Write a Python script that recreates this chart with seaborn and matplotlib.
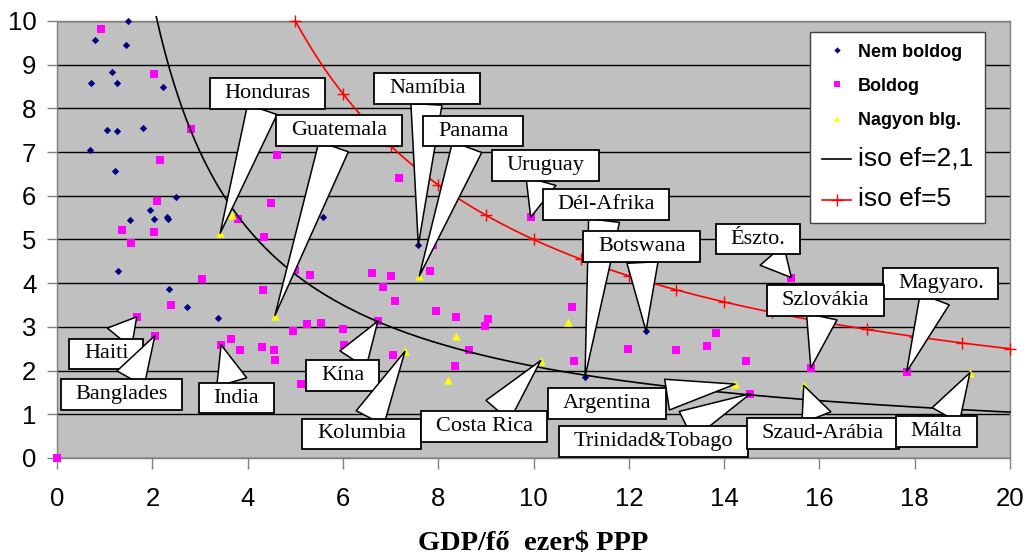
import matplotlib
matplotlib.use("Agg")
import matplotlib.pyplot as plt
from matplotlib.lines import Line2D
import numpy as np
import pandas as pd
import seaborn as sns

# GDP per head (thousand $ PPP) and the y value of each country, by happiness group
nem_boldog_x = [1.48, 0.80, 1.45, 1.14, 0.71, 1.25, 2.23, 1.04, 1.25, 1.80, 0.68, 1.22, 2.49,
                1.95, 1.52, 2.04, 2.30, 2.33, 5.58, 1.28, 2.35, 2.73, 3.37, 7.58, 11.08, 12.36]
nem_boldog_y = [10.0, 9.57, 9.44, 8.83, 8.57, 8.59, 8.49, 7.51, 7.49, 7.56, 7.05, 6.57, 5.98,
                5.67, 5.45, 5.48, 5.51, 5.47, 5.51, 4.29, 3.87, 3.45, 3.20, 4.87, 1.86, 2.91]

boldog_x = [0.92, 2.03, 2.80, 2.16, 4.61, 2.09, 4.49, 3.80, 1.35, 2.03, 4.34, 1.55, 3.04, 5.00,
            5.30, 4.32, 2.38, 1.67, 2.05, 3.64, 3.44, 3.84, 4.29, 4.55, 4.58, 4.95, 5.25, 5.53,
            5.99, 6.03, 5.12, 0.00, 7.89, 7.82, 6.60, 7.00, 6.83, 7.10, 7.96, 8.38, 9.04, 8.98,
            6.73, 7.04, 8.65, 8.36, 10.80, 10.84, 11.99, 13.00, 7.17, 9.94, 15.41, 13.83, 13.63,
            14.45, 15.82, 17.83, 14.55]
boldog_y = [9.81, 8.79, 7.52, 6.82, 6.94, 5.88, 5.84, 5.46, 5.21, 5.18, 5.06, 4.91, 4.10, 4.30,
            4.19, 3.84, 3.49, 3.23, 2.80, 2.72, 2.59, 2.48, 2.55, 2.48, 2.24, 2.91, 3.07, 3.08,
            2.95, 2.59, 1.69, 0.00, 4.87, 4.29, 4.23, 4.17, 3.92, 3.60, 3.36, 3.23, 3.17, 3.01,
            3.13, 2.35, 2.46, 2.11, 3.45, 2.21, 2.49, 2.46, 6.41, 5.51, 4.13, 2.85, 2.57,
            2.21, 2.06, 1.97, 1.47]

nagyon_x = [3.42, 3.67, 4.57, 7.60, 10.72, 8.38, 7.30, 10.15, 8.20, 14.23, 15.67, 19.16]
nagyon_y = [5.14, 5.56, 3.26, 4.16, 3.12, 2.79, 2.44, 2.23, 1.79, 1.69, 1.66, 1.95]

# iso-efficiency curves: y = 10 * ef / GDP
iso_levels = [2.1, 5.0]
iso_start = [2.08, 5.0]
iso_end = 20.0

x_ticks = list(range(0, 21, 2))
y_ticks = list(range(0, 11))

# callouts: (text, group, point index, box centre x, box centre y)
callouts = [
    ("Namíbia", "nem", 23, 7.77, 8.46),
    ("Honduras", "nagyon", 0, 4.42, 8.34),
    ("Guatemala", "nagyon", 2, 5.92, 7.49),
    ("Panama", "nagyon", 3, 8.73, 7.48),
    ("Uruguay", "boldog", 51, 10.25, 6.70),
    ("Dél-Afrika", "nem", 24, 11.52, 5.80),
    ("Botswana", "nem", 25, 12.27, 4.84),
    ("Észto.", "boldog", 52, 14.71, 5.01),
    ("Magyaro.", "boldog", 57, 18.55, 4.00),
    ("Szlovákia", "boldog", 56, 16.12, 3.60),
    ("Haiti", "boldog", 17, 1.03, 2.38),
    ("Banglades", "boldog", 18, 1.35, 1.45),
    ("India", "boldog", 20, 3.76, 1.37),
    ("Kína", "boldog", 42, 5.99, 1.89),
    ("Kolumbia", "nagyon", 6, 6.39, 0.55),
    ("Costa Rica", "nagyon", 7, 8.96, 0.72),
    ("Argentina", "nagyon", 9, 11.55, 1.24),
    ("Trinidad&Tobago", "boldog", 58, 12.52, 0.38),
    ("Szaud-Arábia", "nagyon", 10, 16.07, 0.56),
    ("Málta", "nagyon", 11, 18.46, 0.61),
]

groups = {
    "nem": (nem_boldog_x, nem_boldog_y),
    "boldog": (boldog_x, boldog_y),
    "nagyon": (nagyon_x, nagyon_y),
}

NAVY = "#000080"
MAGENTA = "#FF00FF"
YELLOW = "#FFFF00"
PLOT_BG = "#C0C0C0"
FRAME = "#808080"
SANS = "Liberation Sans"
SERIF = "Liberation Serif"

fig = plt.figure(figsize=(10.27, 5.54), dpi=100)
fig.patch.set_facecolor("white")
ax = fig.add_axes([0.0557, 0.1733, 0.9277, 0.7888])
ax.set_facecolor(PLOT_BG)

# scatter groups
sns.scatterplot(x=nem_boldog_x, y=nem_boldog_y, marker="D", color=NAVY, s=14,
                linewidth=0, ax=ax, zorder=3)
sns.scatterplot(x=boldog_x, y=boldog_y, marker="s", color=MAGENTA, s=26,
                linewidth=0, ax=ax, zorder=3)
sns.scatterplot(x=nagyon_x, y=nagyon_y, marker="^", color=YELLOW, s=36,
                linewidth=0, ax=ax, zorder=3)
for coll in ax.collections:
    coll.set_clip_on(False)

# iso curves
curve_colors = ["black", "red"]
for ef, x0, col in zip(iso_levels, iso_start, curve_colors):
    xs = np.linspace(x0, iso_end, 400)
    df = pd.DataFrame({"x": xs, "y": 10 * ef / xs})
    sns.lineplot(data=df, x="x", y="y", color=col, lw=1.2, ax=ax, zorder=4,
                 clip_on=False, estimator=None, sort=False)

# "+" markers along the ef=5 curve at whole GDP values
mk_x = np.arange(5, 21)
ax.plot(mk_x, 10 * iso_levels[1] / mk_x, ls="none", marker="+", color="red",
        markersize=9, mew=1.0, zorder=4, clip_on=False)

ax.set_xlim(0, 20)
ax.set_ylim(0, 10)
ax.set_xticks(x_ticks)
ax.set_yticks(y_ticks)
ax.set_xticklabels([str(v) for v in x_ticks], fontfamily=SANS, fontsize=18.5)
ax.set_yticklabels([str(v) for v in y_ticks], fontfamily=SANS, fontsize=18.5)
ax.tick_params(axis="x", length=8, width=1, color=FRAME, pad=13, direction="out")
ax.tick_params(axis="y", length=7, width=1, color=FRAME, pad=8, direction="out")
ax.yaxis.grid(True, color="black", lw=1)
ax.xaxis.grid(False)
ax.set_axisbelow(True)
for sp in ax.spines.values():
    sp.set_color(FRAME)
    sp.set_linewidth(1)

ax.set_xlabel("GDP/fő  ezer$ PPP", fontfamily=SERIF, fontweight="bold", fontsize=20.5)
ax.xaxis.set_label_coords(0.5, -0.195)
ax.xaxis.label.set_va("center")
ax.set_ylabel("")

# callout boxes with wedge pointers
for i, (txt, grp, idx, bx, by) in enumerate(callouts):
    gx, gy = groups[grp]
    ax.annotate(
        txt, xy=(gx[idx], gy[idx]), xytext=(bx, by),
        textcoords="data", ha="center", va="center",
        fontfamily=SERIF, fontsize=16, color="black",
        bbox=dict(boxstyle="square,pad=0.66", fc="white", ec="black", lw=1.3,
                  mutation_aspect=0.4),
        arrowprops=dict(arrowstyle="wedge,tail_width=1.4,shrink_factor=0.5",
                        fc="white", ec="black", lw=1.1, shrinkA=0, shrinkB=0),
        zorder=6 + i, annotation_clip=False,
    )

# legend
handles = [
    Line2D([], [], marker="D", color=NAVY, ls="none", markersize=3.2, mew=0),
    Line2D([], [], marker="s", color=MAGENTA, ls="none", markersize=4, mew=0),
    Line2D([], [], marker="^", color=YELLOW, ls="none", markersize=4.5, mew=0),
    Line2D([], [], color="black", lw=1.2),
    Line2D([], [], color="red", lw=1.2, marker="+", markersize=9, mew=1.0),
]
labels = ["Nem boldog", "Boldog", "Nagyon blg.", "iso ef=2,1", "iso ef=5"]
leg = ax.legend(handles, labels, loc="upper right", bbox_to_anchor=(0.974, 0.975),
                borderaxespad=0, frameon=True, fancybox=False, framealpha=1,
                facecolor="white", edgecolor="#404040", borderpad=0.65,
                labelspacing=0.95, handlelength=1.6, handletextpad=0.4,
                prop={"family": SANS, "size": 13, "weight": "bold"})
leg.set_zorder(40)
leg.get_frame().set_linewidth(1)
for t in leg.get_texts()[3:]:
    t.set_fontweight("normal")
    t.set_fontsize(19)

fig.savefig("out.png", dpi=100, facecolor="white")
